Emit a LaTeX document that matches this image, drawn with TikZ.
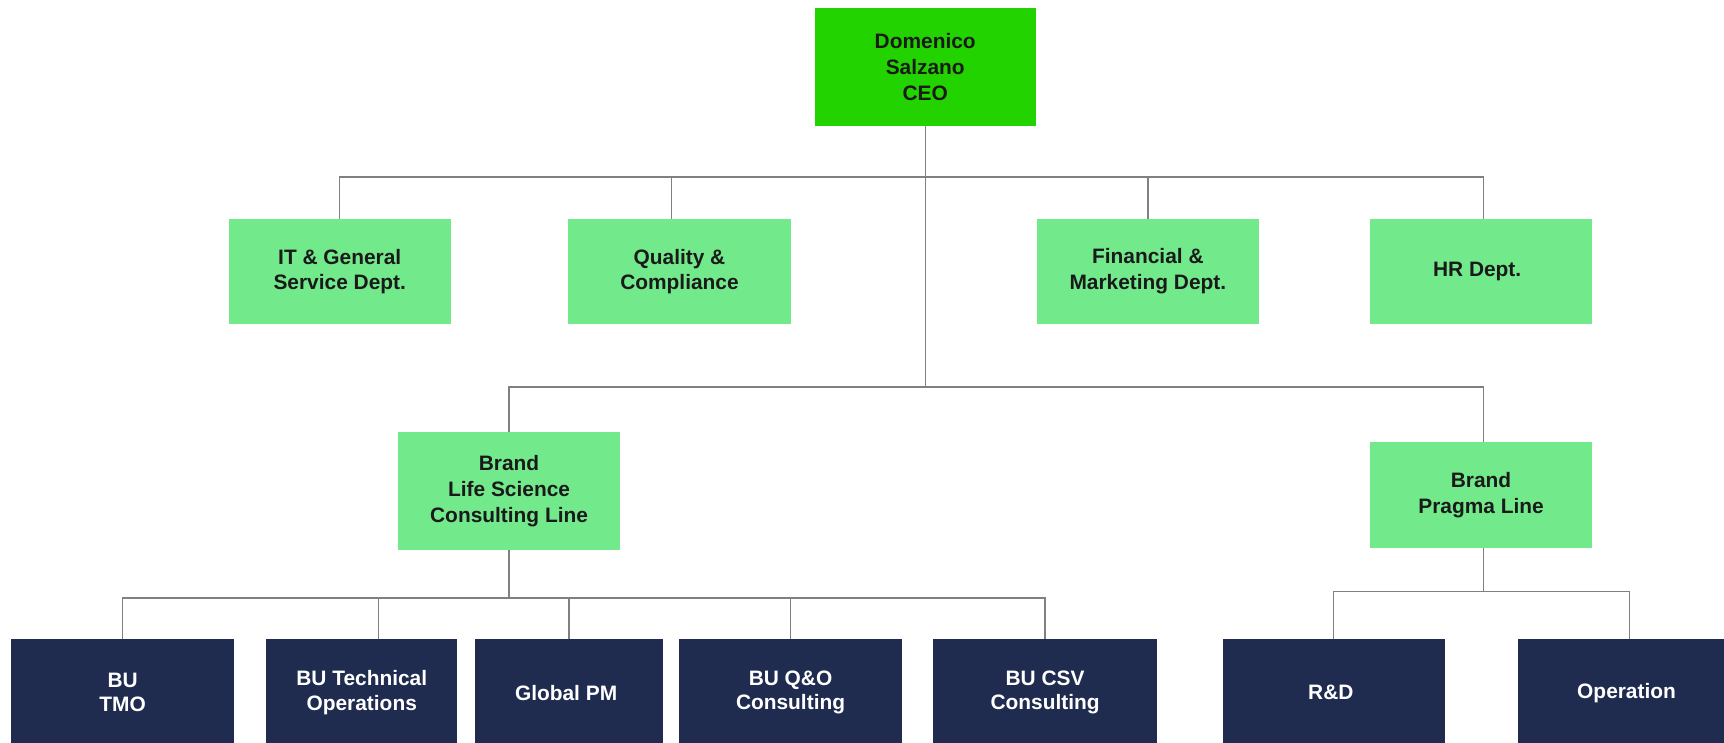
\documentclass[tikz,border=0pt]{standalone}
\usepackage{fontspec}
\setmainfont{Liberation Sans}
\usepackage{tikz}
\usetikzlibrary{positioning}
\definecolor{ceogreen}{HTML}{22D300}
\definecolor{deptgreen}{HTML}{72EA8C}
\definecolor{unitnavy}{HTML}{1F2C50}
\definecolor{linkgray}{HTML}{808080}
\definecolor{inkdark}{HTML}{1A1A1A}
\tikzset{
    boss/.style={
           rectangle,
           fill=ceogreen,
           minimum width=100.5pt,
           minimum height=54pt,
           inner sep=0pt,
           outer sep=0pt,
           align=center,
           text=inkdark,
           font=\bfseries\fontsize{9.5}{11.8}\selectfont,
           },
    dept/.style={
           rectangle,
           fill=deptgreen,
           minimum width=101pt,
           minimum height=48pt,
           inner sep=0pt,
           outer sep=0pt,
           align=center,
           text=inkdark,
           font=\bfseries\fontsize{9.5}{11.8}\selectfont,
           },
    unit/.style={
           rectangle,
           fill=unitnavy,
           minimum height=48.5pt,
           inner sep=0pt,
           outer sep=0pt,
           align=center,
           text=white,
           font=\bfseries\fontsize{9.5}{11}\selectfont,
           },
    link/.style={
           draw=linkgray,
           line width=0.6pt,
           }
}

\begin{document}
\begin{tikzpicture}
[
x=0.5pt, y=-0.5pt
]
 \useasboundingbox (0,0) rectangle (1568,675);

 % Head node: CEO
 \node[boss] (CEO) at (841.5,61)
 {%
 Domenico\\Salzano\\CEO
 };

 % First row: staff departments
 \node[dept] (ITGS) at (309,247)
 {%
 IT \& General\\Service Dept.
 };

 \node[dept,
 right=53.5pt of ITGS] (QUAL)
 {%
 Quality \&\\Compliance
 };

 \node[dept,
 right=112pt of QUAL] (FIN)
 {%
 Financial \&\\Marketing Dept.
 };

 \node[dept,
 right=50.5pt of FIN] (HR)
 {%
 HR Dept.
 };

 % Second row: brands
 \node[dept,
 minimum height=53.5pt] (LSC) at (463,446.5)
 {%
 Brand\\Life Science\\Consulting Line
 };

 \node[dept] (PRAGMA) at (1347,450)
 {%
 Brand\\Pragma Line
 };

 % Bottom row: business units
 \node[unit,
 minimum width=101.5pt] (TMO) at (111.5,630)
 {%
 BU\\TMO
 };

 \node[unit,
 minimum width=87pt,
 right=14.5pt of TMO] (TECHOPS)
 {%
 BU Technical\\Operations
 };

 \node[unit,
 minimum width=85.5pt,
 right=8pt of TECHOPS] (GPM)
 {%
 Global PM
 };

 \node[unit,
 minimum width=101pt,
 right=7.5pt of GPM] (QO)
 {%
 BU Q\&O\\Consulting
 };

 \node[unit,
 minimum width=101.5pt,
 right=14.5pt of QO] (CSV)
 {%
 BU CSV\\Consulting
 };

 \node[unit,
 minimum width=101pt,
 right=30pt of CSV] (RD)
 {%
 R\&D
 };

 \node[unit,
 minimum width=101pt,
 right=33.5pt of RD] (OPER)
 {%
 Operation
 };

 % bus lines
 \coordinate (BUSA) at (0,161);
 \coordinate (BUSB) at (0,352);
 \coordinate (BUSC) at (0,544);
 \coordinate (BUSD) at (0,538);
 \coordinate (QUALTOP) at ([xshift=-3.5pt]QUAL.north);
 \coordinate (HRTOP) at ([xshift=1pt]HR.north);
 \coordinate (PRAGMATOP) at ([xshift=1pt]PRAGMA.north);
 \coordinate (TECHTOP) at ([xshift=7.5pt]TECHOPS.north);

 % CEO to departments and brands
 \draw[link] (CEO.south) -- (CEO.south |- BUSB);
 \draw[link] (ITGS.north) -- (ITGS.north |- BUSA) -- (HRTOP |- BUSA) -- (HRTOP);
 \draw[link] (QUALTOP) -- (QUALTOP |- BUSA);
 \draw[link] (FIN.north) -- (FIN.north |- BUSA);
 \draw[link] (LSC.north) -- (LSC.north |- BUSB) -- (PRAGMATOP |- BUSB) -- (PRAGMATOP);

 % Life Science line to its units
 \draw[link] (LSC.south) -- (LSC.south |- BUSC);
 \draw[link] (TMO.north) -- (TMO.north |- BUSC) -- (CSV.north |- BUSC) -- (CSV.north);
 \draw[link] (TECHTOP) -- (TECHTOP |- BUSC);
 \draw[link] (GPM.north) -- (GPM.north |- BUSC);
 \draw[link] (QO.north) -- (QO.north |- BUSC);

 % Pragma line to its units
 \draw[link] (PRAGMATOP |- PRAGMA.south) -- (PRAGMATOP |- BUSD);
 \draw[link] (RD.north) -- (RD.north |- BUSD) -- (OPER.north |- BUSD) -- (OPER.north);

\end{tikzpicture}
\end{document}
